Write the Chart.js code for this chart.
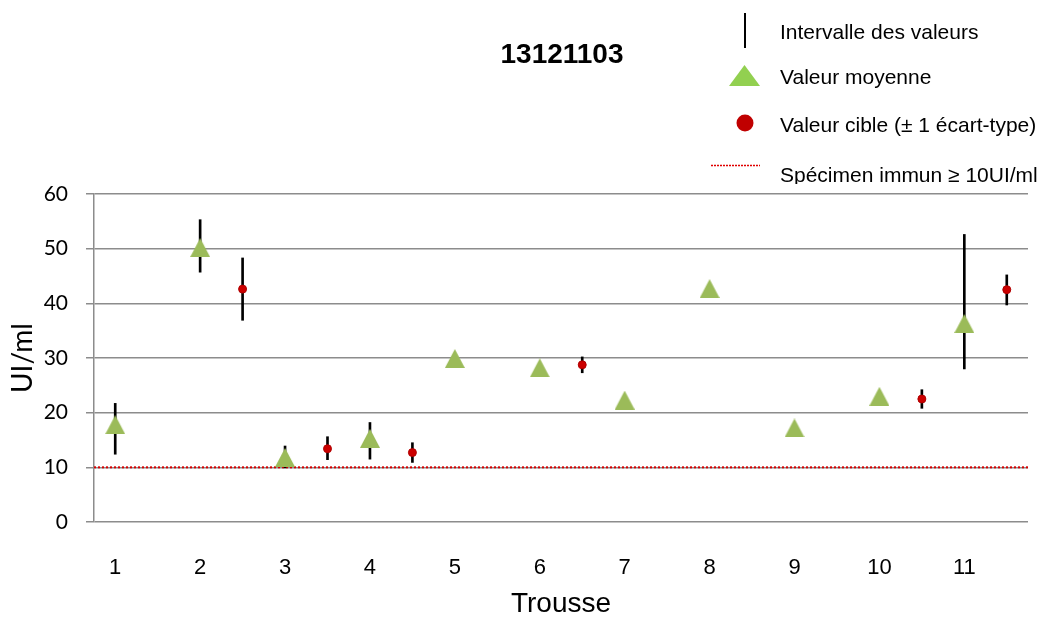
<!DOCTYPE html>
<html>
<head>
<meta charset="utf-8">
<script src="https://cdn.jsdelivr.net/npm/chart.js@4"></script>
<style>
  html, body { margin: 0; padding: 0; background: #fff; }
  #wrap { width: 1047px; height: 618px; }
</style>
</head>
<body>
<div id="wrap"><canvas id="chart" width="1047" height="618"></canvas></div>
<script>
// kits (Trousse) and their mean value + interval of values
const kits = [1, 2, 3, 4, 5, 6, 7, 8, 9, 10, 11];
const meanValues = [17.8, 50.2, 11.8, 15.3, 29.9, 28.2, 22.3, 42.7, 17.2, 23.0, 36.3];
const rangeLow  = [12.4, 45.7, 9.9, 11.5, null, null, null, null, null, null, 28.0];
const rangeHigh = [21.7, 55.3, 13.9, 18.2, null, null, null, null, null, null, 52.6];

// target values (± 1 sd), drawn between kits
const targetPos   = [2.5, 3.5, 4.5, 6.5, 10.5, 11.5];
const targetValue = [42.6, 13.4, 12.7, 28.75, 22.5, 42.5];
const targetLow   = [36.9, 11.4, 10.9, 27.3, 20.8, 39.7];
const targetHigh  = [48.3, 15.6, 14.5, 30.2, 24.2, 45.2];

const immuneThreshold = 10;
const xTickValues = [1, 2, 3, 4, 5, 6, 7, 8, 9, 10, 11];
const yTickValues = [0, 10, 20, 30, 40, 50, 60];

const chartTitle = '13121103';
const legendLabels = ['Intervalle des valeurs', 'Valeur moyenne', 'Valeur cible (\u00b1 1 \u00e9cart-type)', 'Sp\u00e9cimen immun \u2265 10UI/ml'];

// triangle marker, centred on its bounding box like the spreadsheet one
function makeTriangle(w, h, color) {
    const c = document.createElement('canvas');
    c.width = w; c.height = h;
    const g = c.getContext('2d');
    g.fillStyle = color;
    g.beginPath();
    g.moveTo(w / 2, 0);
    g.lineTo(w, h);
    g.lineTo(0, h);
    g.closePath();
    g.fill();
    return c;
}
const triangle = makeTriangle(20, 19, '#9BBB59');

const rangeData = kits
    .map((k, i) => ({ x: k, y: [rangeLow[i], rangeHigh[i]] }))
    .filter(d => d.y[0] != null);
const targetRangeData = targetPos.map((p, i) => ({ x: p, y: [targetLow[i], targetHigh[i]] }));

const thresholdLine = {
    id: 'thresholdLine',
    beforeDatasetsDraw(chart) {
        const { ctx, chartArea } = chart;
        const y = chart.scales.y.getPixelForValue(immuneThreshold);
        ctx.save();
        ctx.strokeStyle = '#D60000';
        ctx.lineWidth = 2;
        ctx.setLineDash([2, 2]);
        ctx.beginPath();
        ctx.moveTo(chartArea.left, y);
        ctx.lineTo(chartArea.right, y);
        ctx.stroke();
        ctx.restore();
    }
};

const titleAndLegend = {
    id: 'titleAndLegend',
    afterDraw(chart) {
        const ctx = chart.ctx;
        ctx.save();
        ctx.fillStyle = '#000';
        ctx.font = 'bold 28px "Liberation Sans", Arial, sans-serif';
        ctx.textAlign = 'center';
        ctx.textBaseline = 'middle';
        ctx.fillText(chartTitle, 562, 55);

        // legend markers
        ctx.strokeStyle = '#000';
        ctx.lineWidth = 2;
        ctx.beginPath();
        ctx.moveTo(745, 13);
        ctx.lineTo(745, 48);
        ctx.stroke();

        ctx.drawImage(makeTriangle(31, 21, '#92D050'), 729, 65);

        ctx.fillStyle = '#C00000';
        ctx.beginPath();
        ctx.arc(745, 123, 8.5, 0, Math.PI * 2);
        ctx.fill();

        ctx.strokeStyle = '#E00000';
        ctx.lineWidth = 1.5;
        ctx.setLineDash([2, 1]);
        ctx.beginPath();
        ctx.moveTo(711, 165.5);
        ctx.lineTo(760, 165.5);
        ctx.stroke();
        ctx.setLineDash([]);

        // legend texts (last one is cut by the legend box)
        ctx.beginPath();
        ctx.rect(0, 0, chart.width, 184);
        ctx.clip();
        ctx.fillStyle = '#000';
        ctx.font = '21px "Liberation Sans", Arial, sans-serif';
        ctx.textAlign = 'left';
        const ys = [33, 78, 126, 176];
        legendLabels.forEach((t, i) => ctx.fillText(t, 780, ys[i]));
        ctx.restore();
    }
};

new Chart(document.getElementById('chart'), {
    type: 'scatter',
    data: {
        datasets: [
            {
                type: 'bar',
                label: 'Intervalle des valeurs',
                data: rangeData,
                backgroundColor: '#000',
                borderWidth: 0,
                barThickness: 2,
                grouped: false,
                order: 4
            },
            {
                type: 'bar',
                label: 'Écart-type',
                data: targetRangeData,
                backgroundColor: '#000',
                borderWidth: 0,
                barThickness: 2,
                grouped: false,
                order: 3
            },
            {
                label: 'Valeur moyenne',
                data: kits.map((k, i) => ({ x: k, y: meanValues[i] })),
                pointStyle: triangle,
                order: 2
            },
            {
                label: 'Valeur cible',
                data: targetPos.map((p, i) => ({ x: p, y: targetValue[i] })),
                pointStyle: 'circle',
                pointRadius: 4,
                backgroundColor: '#CC0000',
                borderColor: '#B00000',
                borderWidth: 1,
                order: 1
            }
        ]
    },
    options: {
        responsive: false,
        animation: false,
        layout: { padding: { top: 194, right: 19, left: 0, bottom: 0 } },
        plugins: {
            legend: { display: false },
            tooltip: { enabled: false },
            title: { display: false }
        },
        scales: {
            x: {
                type: 'linear',
                min: 0.75,
                max: 11.75,
                offset: false,
                afterFit: (s) => { s.height = 96; },
                afterBuildTicks: (s) => { s.ticks = xTickValues.map(v => ({ value: v })); },
                grid: { display: false, offset: false },
                border: { display: false },
                ticks: {
                    padding: 25,
                    color: '#000',
                    font: { family: '"Liberation Sans", Arial, sans-serif', size: 22 },
                    callback: (v) => String(v)
                },
                title: {
                    display: true,
                    text: 'Trousse',
                    color: '#000',
                    padding: { top: 0, bottom: 0 },
                    font: { family: '"Liberation Sans", Arial, sans-serif', size: 28, lineHeight: 1 }
                }
            },
            y: {
                min: 0,
                max: 60,
                afterFit: (s) => { s.width = 94; },
                afterBuildTicks: (s) => { s.ticks = yTickValues.map(v => ({ value: v })); },
                grid: {
                    color: '#8C8C8C',
                    lineWidth: 1.5,
                    tickLength: 8,
                    tickColor: '#8C8C8C'
                },
                border: { display: true, color: '#8C8C8C', width: 1.5 },
                ticks: {
                    padding: 18,
                    color: '#000',
                    font: { family: 'Lato, "Open Sans", sans-serif', size: 21 }
                },
                title: {
                    display: true,
                    text: 'UI/ml',
                    color: '#000',
                    padding: { top: 6, bottom: 0 },
                    font: { family: 'Lato, "Open Sans", sans-serif', size: 28 }
                }
            }
        }
    },
    plugins: [thresholdLine, titleAndLegend]
});
</script>
</body>
</html>
